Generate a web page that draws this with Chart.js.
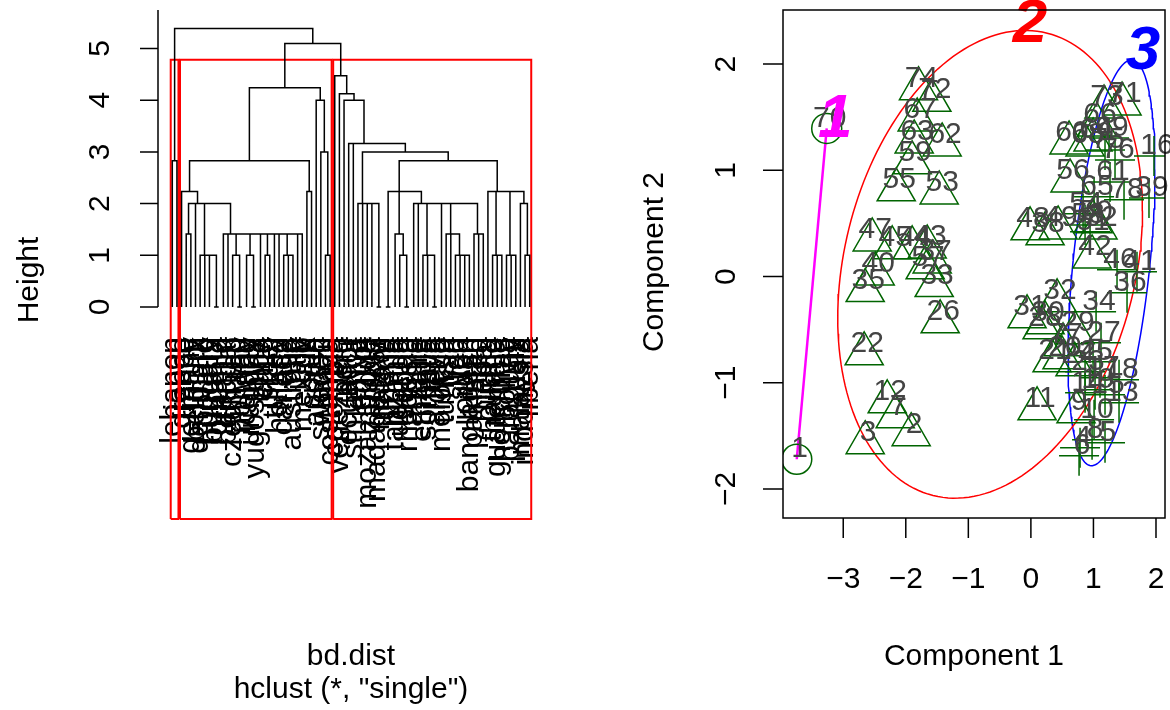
<!DOCTYPE html>
<html>
<head>
<meta charset="utf-8">
<script src="https://cdn.jsdelivr.net/npm/chart.js@4.4.1/dist/chart.umd.min.js"></script>
<style>
  body { margin: 0; background: #fff; }
  #wrap { position: relative; width: 1170px; height: 710px; }
  canvas { position: absolute; top: 0; }
</style>
</head>
<body>
<div id="wrap">
  <canvas id="dendro" width="585" height="710" style="left:0"></canvas>
  <canvas id="clus" width="585" height="710" style="left:585px"></canvas>
</div>
<script>
'use strict';

var FONT = '"Liberation Sans", Arial, Helvetica, sans-serif';

// ---- left: single linkage dendrogram ----
var leafLabels = [
  'lebanon', 'japan', 'greece', 'france', 'germany', 'belgium', 'denmark', 'poland',
  'hungary', 'bulgaria', 'romania', 'ireland', 'portugal', 'czech rep', 'finland',
  'norway', 'iceland', 'uruguay', 'yugoslavia', 'cuba', 'chile', 'israel', 'turkey',
  'holland', 'canada', 'usa', 'australia', 'italy', 'mexico', 'uk', 'spain', 'austria',
  'sweden', 'brazil', 'costa rica', 'colombia', 'venezuela', 'peru', 'ecuador',
  'sth africa', 'kenya', 'egypt', 'mozambique', 'zambia', 'madagascar', 'malawi',
  'ghana', 'nigeria', 'tanzania', 'uganda', 'sudan', 'rhodesia', 'angola', 'zaire',
  'ethiopia', 'somalia', 'libya', 'algeria', 'morocco', 'tunisia', 'iran', 'iraq',
  'syria', 'jordan', 'bangladesh', 'pakistan', 'india', 'nepal', 'burma', 'thailand',
  'guatemala', 'honduras', 'bolivia', 'paraguay', 'haiti', 'malaysia', 'indonesia', 'liberia'
];
var heightTicks = [0, 1, 2, 3, 4, 5];

// a node is [height, child, child, ...]; a plain number is a leaf position
var tree = [5.385,
  [2.828, 1, 2],
  [5.099,
    [4.243,
      [2.828,
        [2.236, 3,
          [2.0, [1.414, 4, 5], 6, [1.0, 7, 8, 9, [0, 10, 11]],
            [1.414, 12, 13, [1.0, 14, [0, 15, 16]], [1.0, 17, [0, 18, 19]], 20,
              [1.0, 21, 22], 23, 24, [1.0, 25, 26, 27], 28, 29]]],
        [2.236, 30, 31]],
      [4.0, 32, [3.0, 33, [1.0, 34, 35]]]],
    [4.472, 36,
      [4.123, 37,
        [4.0, 38,
          [3.162, 39, 40,
            [3.0,
              [2.0, 41, 42, 43, 44, [0, 45, 46]],
              [2.828,
                [2.236, [0, 47, 48], [1.414, 49, [1.0, 50, [0, 51, 52]]],
                  [2.0, 53, 54, [1.0, 55, 56, [0, 57, 58]], 59,
                    [1.414, 60, 61, [1.0, 62, 63, 64, 65]], [1.414, 66, 67, 68]]],
                [2.236, 69, [1.0, 70, 71, 72], [1.0, 73, 74, 75], [2.0, 76, [1.0, 77, 78]]]]]]]]]]];

var groupSizes = [2, 33, 43];
var groupCutHeight = 4.785;
var groupBoxBottom = -4.1;

// ---- right: clusplot ----
var pointId = [];
for (var n = 1; n <= 78; n++) pointId.push(n);
var comp1 = [
  -3.743, -1.914, -2.649, 0.786, 1.185, 0.770, -2.169, 0.978, 0.722, 1.010,
  0.099, -2.297, 1.409, 0.866, 1.185, 1.968, 1.105, 1.409, 1.026, 0.498,
  0.339, -2.665, 0.866, 0.706, 0.994, -1.450, 1.121, 0.179, 0.706, 0.227,
  -0.061, 0.419, -1.546, 1.042, -2.649, 1.537, -1.578, 0.227, 1.888, -2.489,
  1.696, 0.978, -1.658, -1.898, -2.217, 1.377, -2.537, -0.013, 0.435, 0.994,
  0.946, 1.073, -1.466, 0.834, -2.153, 0.626, -1.690, 0.866, -1.898, 0.610,
  1.265, -1.419, -1.866, 0.994, 1.010, 1.058, -1.818, 0.866, 1.249, -3.264,
  1.457, -1.583, 1.169, -1.797, 1.185, 1.345, 0.514, 1.489
];
var comp2 = [
  -1.720, -1.489, -1.564, -1.611, -1.564, -1.687, -1.320, -1.536, -1.273, -1.348,
  -1.245, -1.179, -1.188, -1.094, -1.113, 1.135, -0.953, -0.972, -1.066, -0.765,
  -0.793, -0.727, -0.897, -0.831, -0.802, -0.426, -0.624, -0.483, -0.530, -0.436,
  -0.379, -0.229, -0.085, -0.332, -0.132, -0.153, 0.138, 0.402, 0.740, 0.025,
  0.044, 0.185, 0.279, 0.270, 0.270, 0.063, 0.345, 0.449, 0.458, 0.515,
  0.421, 0.458, 0.787, 0.590, 0.816, 0.900, 0.082, 0.486, 1.070, 1.258,
  0.891, 1.239, 1.267, 1.286, 0.750, 1.427, 1.474, 1.239, 1.305, 1.394,
  1.625, 1.659, 1.596, 1.768, 1.192, 1.098, -0.643, 0.722
];
var pointCluster = [
  1, 2, 2, 3, 3, 3, 2, 3, 2, 3,
  2, 2, 3, 3, 3, 3, 3, 3, 3, 2,
  2, 2, 3, 2, 3, 2, 3, 2, 2, 2,
  2, 2, 2, 3, 2, 3, 2, 2, 3, 2,
  3, 2, 2, 2, 2, 3, 2, 2, 2, 2,
  3, 2, 2, 3, 2, 2, 2, 3, 2, 2,
  3, 2, 2, 2, 3, 2, 2, 2, 3, 1,
  2, 2, 2, 2, 3, 3, 2, 3
];
var comp1Ticks = [-3, -2, -1, 0, 1, 2];
var comp2Ticks = [-2, -1, 0, 1, 2];

// spanning ellipses of clusters 2 and 3 (centre and shape matrix)
var ellCx = [-0.652, 1.289];
var ellCy = [0.115, 0.129];
var ellSxx = [5.934, 0.4828];
var ellSxy = [1.232, 0.6101];
var ellSyy = [4.846, 3.647];

var clusterNames = ['1', '2', '3'];
var clusterNameX = [-3.128, -0.013, 1.792];
var clusterNameY = [1.474, 2.369, 2.114];
var clusterColors = ['#ff00ff', '#ff0000', '#0000ff'];
var markerStyles = ['circle', 'triangle', 'cross'];
var markerSizes = [15, 22, 20];

// ---------- dendrogram ----------
var dendroSegs = [];
function placeNode(node) {
  if (typeof node === 'number') return { x: node, h: 0 };
  var h = node[0];
  var kids = node.slice(1).map(placeNode);
  var x = kids[kids.length - 1].x;
  for (var i = kids.length - 2; i >= 0; i--) x = (kids[i].x + x) / 2;
  var first = kids[0], last = kids[kids.length - 1];
  dendroSegs.push({x: first.x, y: first.h}, {x: first.x, y: h}, {x: last.x, y: h},
    {x: last.x, y: last.h}, {x: last.x, y: null});
  for (var j = 1; j < kids.length - 1; j++) {
    dendroSegs.push({x: kids[j].x, y: kids[j].h}, {x: kids[j].x, y: h}, {x: kids[j].x, y: null});
  }
  return { x: x, h: h };
}
placeNode(tree);

var nLeaves = leafLabels.length;
var dendroSets = [{
  data: dendroSegs, borderColor: '#000', borderWidth: 1.5, pointRadius: 0,
  tension: 0, fill: false, spanGaps: false
}];
var start = 0;
groupSizes.forEach(function (size) {
  var l = start + 0.66, r = start + size + 0.33;
  dendroSets.push({
    data: [{x: l, y: groupBoxBottom}, {x: l, y: groupCutHeight}, {x: r, y: groupCutHeight},
      {x: r, y: groupBoxBottom}, {x: l, y: groupBoxBottom}],
    borderColor: '#ff0000', borderWidth: 2, pointRadius: 0, tension: 0, fill: false, clip: false
  });
  start += size;
});

function rotText(ctx, txt, x, y, align) {
  ctx.save();
  ctx.translate(x, y);
  ctx.rotate(-Math.PI / 2);
  ctx.textAlign = align || 'center';
  ctx.fillText(txt, 0, 0);
  ctx.restore();
}

var dendroDecor = {
  id: 'dendroDecor',
  beforeDatasetsDraw: function (chart) {
    var ctx = chart.ctx, xs = chart.scales.x, ys = chart.scales.y;
    var y0 = ys.getPixelForValue(0);
    ctx.save();
    ctx.fillStyle = '#000';
    ctx.font = '30px ' + FONT;
    ctx.textBaseline = 'middle';
    leafLabels.forEach(function (lab, i) {
      rotText(ctx, lab, xs.getPixelForValue(i + 1), y0 + 30, 'right');
    });
    // height axis
    var ax = chart.chartArea.left;
    ctx.strokeStyle = '#000';
    ctx.lineWidth = 1.5;
    ctx.beginPath();
    ctx.moveTo(ax, y0);
    ctx.lineTo(ax, chart.chartArea.top);
    heightTicks.forEach(function (t) {
      var py = ys.getPixelForValue(t);
      ctx.moveTo(ax - 18, py);
      ctx.lineTo(ax, py);
    });
    ctx.stroke();
    heightTicks.forEach(function (t) {
      rotText(ctx, String(t), ax - 57, ys.getPixelForValue(t));
    });
    rotText(ctx, 'Height', 30, 280);
    ctx.textAlign = 'center';
    var cx = (chart.chartArea.left + chart.chartArea.right) / 2;
    ctx.fillText('bd.dist', cx, 657);
    ctx.fillText('hclust (*, "single")', cx, 690);
    ctx.restore();
  }
};

new Chart(document.getElementById('dendro'), {
  type: 'line',
  data: { datasets: dendroSets },
  options: {
    responsive: false,
    animation: false,
    layout: { autoPadding: false, padding: { left: 158, right: 41, top: 10, bottom: 190 } },
    scales: {
      x: { type: 'linear', display: false, min: 1 - 0.04 * (nLeaves - 1), max: nLeaves + 0.04 * (nLeaves - 1) },
      y: { type: 'linear', display: false, min: -4.12, max: 5.745 }
    },
    plugins: { legend: { display: false }, tooltip: { enabled: false } }
  },
  plugins: [dendroDecor]
});

// ---------- clusplot ----------
var clusSets = [];
[1, 2, 3].forEach(function (k) {
  var pts = [];
  pointId.forEach(function (id, i) {
    if (pointCluster[i] === k) pts.push({x: comp1[i], y: comp2[i]});
  });
  clusSets.push({
    type: 'scatter', data: pts, pointStyle: markerStyles[k - 1], pointRadius: markerSizes[k - 1],
    pointBorderColor: '#006400', pointBackgroundColor: 'rgba(0,0,0,0)', pointBorderWidth: 1.5,
    showLine: false
  });
});
// cluster 1 has two members: its ellipse is the segment joining them
var seg = [];
pointId.forEach(function (id, i) {
  if (pointCluster[i] === 1) seg.push({x: comp1[i], y: comp2[i]});
});
clusSets.push({ type: 'line', data: seg, borderColor: clusterColors[0], borderWidth: 2.5, pointRadius: 0, tension: 0 });
ellCx.forEach(function (cx, e) {
  var a = Math.sqrt(ellSxx[e]), b = ellSxy[e] / a, d = Math.sqrt(ellSyy[e] - b * b);
  var pts = [];
  for (var s = 0; s <= 180; s++) {
    var t = 2 * Math.PI * s / 180;
    pts.push({x: cx + a * Math.cos(t), y: ellCy[e] + b * Math.cos(t) + d * Math.sin(t)});
  }
  clusSets.push({ type: 'line', data: pts, borderColor: clusterColors[e + 1], borderWidth: 1.5, pointRadius: 0, tension: 0 });
});

var clusDecor = {
  id: 'clusDecor',
  afterDatasetsDraw: function (chart) {
    var ctx = chart.ctx, xs = chart.scales.x, ys = chart.scales.y, ca = chart.chartArea;
    var dx = (xs.max - xs.min) / 130, dy = (ys.max - ys.min) / 50;
    ctx.save();
    ctx.font = '30px ' + FONT;
    ctx.fillStyle = '#444';
    ctx.textAlign = 'center';
    ctx.textBaseline = 'middle';
    pointId.forEach(function (id, i) {
      ctx.fillText(String(id), xs.getPixelForValue(comp1[i] + dx), ys.getPixelForValue(comp2[i] + dy));
    });
    ctx.font = 'italic bold 62px ' + FONT;
    clusterNames.forEach(function (nm, k) {
      ctx.fillStyle = clusterColors[k];
      ctx.fillText(nm, xs.getPixelForValue(clusterNameX[k]), ys.getPixelForValue(clusterNameY[k]));
    });
    // box and axes
    ctx.strokeStyle = '#000';
    ctx.lineWidth = 1.5;
    ctx.strokeRect(ca.left, ca.top, ca.right - ca.left, ca.bottom - ca.top);
    ctx.beginPath();
    comp1Ticks.forEach(function (t) {
      var px = xs.getPixelForValue(t);
      ctx.moveTo(px, ca.bottom);
      ctx.lineTo(px, ca.bottom + 20);
    });
    comp2Ticks.forEach(function (t) {
      var py = ys.getPixelForValue(t);
      ctx.moveTo(ca.left - 20, py);
      ctx.lineTo(ca.left, py);
    });
    ctx.stroke();
    ctx.fillStyle = '#000';
    ctx.font = '30px ' + FONT;
    comp1Ticks.forEach(function (t) {
      ctx.fillText(String(t).replace('-', '\u2212'), xs.getPixelForValue(t), 580);
    });
    comp2Ticks.forEach(function (t) {
      rotText(ctx, String(t).replace('-', '\u2212'), ca.left - 56, ys.getPixelForValue(t));
    });
    ctx.fillText('Component 1', (ca.left + ca.right) / 2, 657);
    rotText(ctx, 'Component 2', 70, 262);
    ctx.restore();
  }
};

new Chart(document.getElementById('clus'), {
  type: 'scatter',
  data: { datasets: clusSets },
  options: {
    responsive: false,
    animation: false,
    layout: { autoPadding: false, padding: { left: 198, right: 5, top: 10, bottom: 192 } },
    scales: {
      x: { type: 'linear', display: false, min: -3.963, max: 2.144 },
      y: { type: 'linear', display: false, min: -2.273, max: 2.509 }
    },
    plugins: { legend: { display: false }, tooltip: { enabled: false } }
  },
  plugins: [clusDecor]
});
</script>
</body>
</html>
